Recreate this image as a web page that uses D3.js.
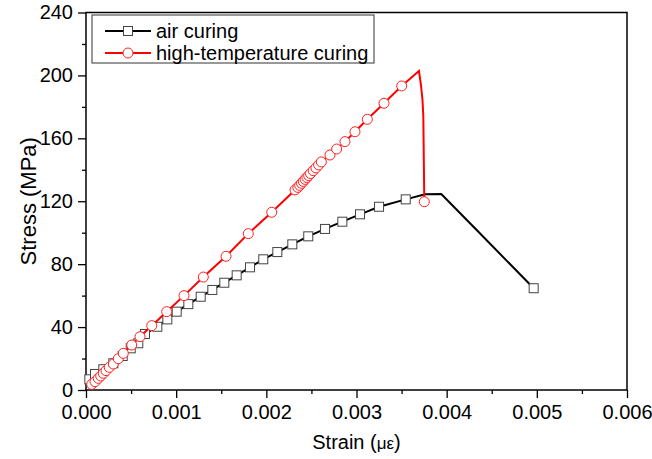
<!DOCTYPE html>
<html>
<head>
<meta charset="utf-8">
<script src="https://cdn.jsdelivr.net/npm/d3@7"></script>
<style>
  body { margin: 0; background: #fff; }
  svg text { font-family: "Liberation Sans", Arial, sans-serif; }
</style>
</head>
<body>
<div id="chart"></div>
<script>
// air curing (mark = 1 -> square marker drawn)
var airStrain = [0.00002, 0.000037, 0.0001, 0.000192, 0.000303, 0.000407, 0.000496, 0.00058, 0.000654, 0.000791, 0.000902, 0.001006, 0.001135, 0.001272, 0.001401, 0.001534, 0.001671, 0.001819, 0.001966, 0.002122, 0.002288, 0.002465, 0.002651, 0.002843, 0.003039, 0.00325, 0.003546, 0.00376, 0.00394, 0.0043, 0.004965];
var airStress = [3, 6.8, 10.2, 13.2, 17.0, 21.6, 26.5, 29.7, 35.6, 40.2, 44.9, 49.8, 54.6, 59.3, 63.6, 68.2, 72.9, 78.0, 83.1, 87.7, 92.6, 97.7, 102.4, 107.0, 111.7, 116.5, 121.2, 124.4, 124.6, 103.6, 64.7];
var airMark   = [0, 1, 1, 1, 1, 1, 1, 1, 1, 1, 1, 1, 1, 1, 1, 1, 1, 1, 1, 1, 1, 1, 1, 1, 1, 1, 1, 0, 0, 0, 1];

// high-temperature curing (mark = 1 -> circle marker drawn)
var hotStrain = [0.0000632, 0.0000998, 0.000136, 0.000163, 0.000192, 0.000222, 0.000258, 0.000303, 0.000358, 0.000414, 0.000507, 0.000599, 0.000729, 0.000895, 0.001087, 0.001301, 0.001553, 0.0018, 0.00206, 0.002318, 0.00235, 0.00237, 0.00239, 0.00241, 0.00243, 0.00245, 0.00247, 0.00249, 0.00252, 0.00255, 0.00258, 0.00261, 0.002706, 0.00278, 0.002872, 0.002983, 0.00312, 0.003305, 0.003501, 0.003693, 0.003715, 0.003732, 0.003741, 0.003752];
var hotStress = [3.6, 5.3, 7.4, 8.9, 10.6, 12.3, 14.4, 16.5, 19.9, 23.3, 28.6, 33.9, 40.9, 49.8, 60.0, 71.8, 85.0, 99.4, 113.0, 127.2, 128.8, 130.1, 131.4, 132.6, 133.9, 135.1, 136.3, 137.6, 139.4, 141.2, 143.1, 145.0, 149.4, 153.2, 157.9, 164.2, 172.1, 182.3, 193.3, 202.8, 193.9, 184.4, 173.8, 119.7];
var hotMark   = [1, 1, 1, 1, 1, 1, 1, 1, 1, 1, 1, 1, 1, 1, 1, 1, 1, 1, 1, 1, 1, 1, 1, 1, 1, 1, 1, 1, 1, 1, 1, 1, 1, 1, 1, 1, 1, 1, 1, 0, 0, 0, 0, 1];

var xTicks = [0, 0.001, 0.002, 0.003, 0.004, 0.005, 0.006];
var yTicks = [0, 40, 80, 120, 160, 200, 240];
var seriesNames = ['air curing', 'high-temperature curing'];

var w = 652, h = 459;
var svg = d3.select('#chart').append('svg')
    .attr('width', w)
    .attr('height', h);

var x = d3.scaleLinear().domain([0, 0.006]).range([86, 627]);
var y = d3.scaleLinear().domain([0, 240]).range([390, 12.5]);

// minor ticks
var xMinor = d3.range(0.0005, 0.006, 0.001);
var yMinor = d3.range(20, 240, 40);

svg.append('g')
    .attr('transform', 'translate(0,' + y(0) + ')')
    .call(d3.axisBottom(x).tickValues(xMinor).tickSize(4).tickFormat(''))
    .call(function(g) { g.select('.domain').remove(); });
svg.append('g')
    .attr('transform', 'translate(' + x(0) + ',0)')
    .call(d3.axisLeft(y).tickValues(yMinor).tickSize(4).tickFormat(''))
    .call(function(g) { g.select('.domain').remove(); });

svg.append('g')
    .attr('transform', 'translate(0,' + y(0) + ')')
    .call(d3.axisBottom(x).tickValues(xTicks).tickSize(8).tickSizeOuter(0).tickPadding(7).tickFormat(d3.format('.3f')));
svg.append('g')
    .attr('transform', 'translate(' + x(0) + ',0)')
    .call(d3.axisLeft(y).tickValues(yTicks).tickSize(8).tickSizeOuter(0).tickPadding(5).tickFormat(d3.format('d')));

svg.selectAll('.tick line').attr('stroke', '#000').attr('stroke-width', 1.3);
svg.selectAll('.tick text').attr('font-size', 20).attr('fill', '#000')
    .style('font-family', '"Liberation Sans", Arial, sans-serif');
svg.selectAll('.domain').remove();

// frame
svg.append('rect')
    .attr('x', x(0)).attr('y', y(240))
    .attr('width', x(0.006) - x(0))
    .attr('height', y(0) - y(240))
    .attr('fill', 'none')
    .attr('stroke', '#000')
    .attr('stroke-width', 1.5);

// axis titles
var xt = svg.append('text')
    .attr('x', (x(0) + x(0.006)) / 2)
    .attr('y', 449)
    .attr('text-anchor', 'middle')
    .attr('font-size', 20)
    .attr('fill', '#000');
xt.append('tspan').text('Strain (');
xt.append('tspan').attr('font-size', 17).text('με');
xt.append('tspan').text(')');

svg.append('text')
    .attr('transform', 'translate(36,' + (y(0) + y(240)) / 2 + ') rotate(-90)')
    .attr('text-anchor', 'middle')
    .attr('font-size', 22)
    .attr('fill', '#000')
    .text('Stress (MPa)');

function toPts(sx, sy, m) {
    return sx.map(function(d, i) { return {s: d, v: sy[i], m: m[i]}; });
}
var air = toPts(airStrain, airStress, airMark);
var hot = toPts(hotStrain, hotStress, hotMark);

var line = d3.line()
    .x(function(d) { return x(d.s); })
    .y(function(d) { return y(d.v); });

function drawSeries(data, color, shape) {
    svg.append('path')
        .datum(data)
        .attr('d', line)
        .attr('fill', 'none')
        .attr('stroke', color)
        .attr('stroke-width', 2);
    var marks = data.filter(function(d) { return d.m; });
    if (shape === 'square') {
        svg.selectAll(null).data(marks).enter().append('rect')
            .attr('x', function(d) { return x(d.s) - 4.5; })
            .attr('y', function(d) { return y(d.v) - 4.5; })
            .attr('width', 9).attr('height', 9)
            .attr('fill', '#fff')
            .attr('stroke', '#444')
            .attr('stroke-width', 1);
    } else {
        svg.selectAll(null).data(marks).enter().append('circle')
            .attr('cx', function(d) { return x(d.s); })
            .attr('cy', function(d) { return y(d.v); })
            .attr('r', 5)
            .attr('fill', '#fff')
            .attr('stroke', '#ff2020')
            .attr('stroke-width', 1);
    }
}

drawSeries(air, '#000', 'square');
drawSeries(hot, '#ff0000', 'circle');

// legend
var lg = svg.append('g');
lg.append('rect')
    .attr('x', 92).attr('y', 15)
    .attr('width', 282).attr('height', 48)
    .attr('fill', '#fff')
    .attr('stroke', '#333')
    .attr('stroke-width', 1);
var legendRows = [
    {name: seriesNames[0], color: '#000', shape: 'square', cy: 31},
    {name: seriesNames[1], color: '#ff0000', shape: 'circle', cy: 53}
];
legendRows.forEach(function(r) {
    lg.append('line')
        .attr('x1', 105).attr('x2', 151)
        .attr('y1', r.cy).attr('y2', r.cy)
        .attr('stroke', r.color).attr('stroke-width', 2);
    if (r.shape === 'square') {
        lg.append('rect')
            .attr('x', 128 - 4.5).attr('y', r.cy - 4.5)
            .attr('width', 9).attr('height', 9)
            .attr('fill', '#fff').attr('stroke', '#444');
    } else {
        lg.append('circle')
            .attr('cx', 128).attr('cy', r.cy).attr('r', 5)
            .attr('fill', '#fff').attr('stroke', '#ff2020');
    }
    lg.append('text')
        .attr('x', 156)
        .attr('y', r.cy + 7)
        .attr('font-size', 20)
        .attr('fill', '#000')
        .text(r.name);
});
</script>
</body>
</html>
